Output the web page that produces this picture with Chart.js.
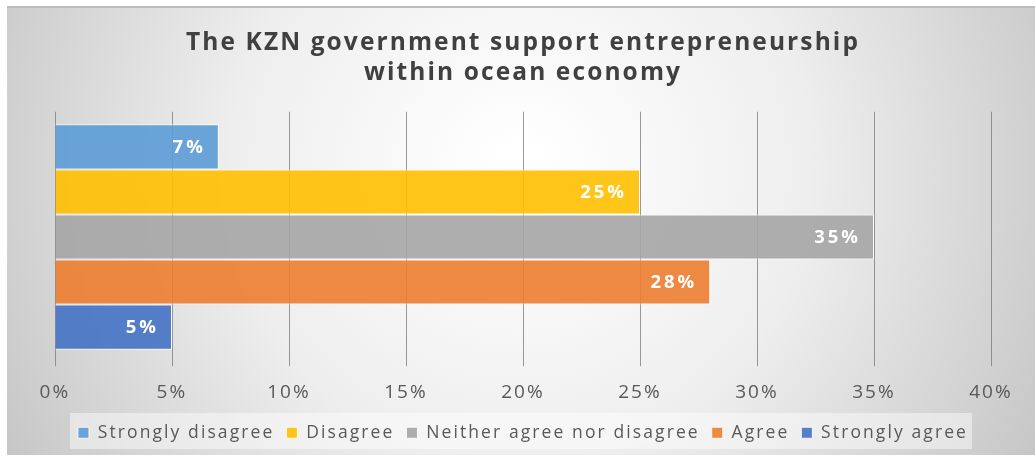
<!DOCTYPE html>
<html>
<head>
<meta charset="utf-8">
<script src="https://cdn.jsdelivr.net/npm/chart.js@4/dist/chart.umd.min.js"></script>
<style>
  html, body { margin: 0; padding: 0; background: #ffffff; }
  #wrap { position: relative; width: 1035px; height: 457px; }
  canvas { display: block; }
</style>
</head>
<body>
<div id="wrap"><canvas id="chart" width="1035" height="457"></canvas></div>
<script>
// Survey responses, in percent
const categories = ['KZN government support'];
const responseLabels = ['Strongly disagree', 'Disagree', 'Neither agree nor disagree', 'Agree', 'Strongly agree'];
const responseValues = [7, 25, 35, 28, 5];
const responseColors = ['#5B9BD5', '#FFC000', '#A5A5A5', '#ED7D31', '#4472C4'];
const titleLines = ['The KZN government support entrepreneurship', 'within ocean economy'];
const axisMin = 0, axisMax = 40, axisStep = 5;

function withAlpha(hex, a) {
  const n = parseInt(hex.slice(1), 16);
  return `rgba(${(n >> 16) & 255},${(n >> 8) & 255},${n & 255},${a})`;
}

// Slightly open lettering for every text element
const TEXT_SPACING = '2.1px';
const spacing = {
  id: 'spacing',
  beforeUpdate(chart) { chart.ctx.letterSpacing = TEXT_SPACING; },
  beforeLayout(chart) { chart.ctx.letterSpacing = TEXT_SPACING; },
  beforeDraw(chart) { chart.ctx.letterSpacing = TEXT_SPACING; }
};

// Soft radial backdrop behind the whole chart, with a thin top rule
const backdrop = {
  id: 'backdrop',
  beforeDraw(chart) {
    const ctx = chart.ctx;
    const x0 = 7, y0 = 6, x1 = chart.width, y1 = 455;
    ctx.save();
    const g = ctx.createRadialGradient(520, 170, 20, 520, 170, 620);
    g.addColorStop(0, '#ffffff');
    g.addColorStop(0.45, '#eeeeee');
    g.addColorStop(1, '#c2c2c2');
    ctx.fillStyle = g;
    ctx.fillRect(x0, y0, x1 - x0, y1 - y0);
    ctx.fillStyle = '#bdbdbd';
    ctx.fillRect(x0, y0, x1 - x0, 2);
    ctx.restore();
  }
};

// Light panel behind the legend items
const legendPanel = {
  id: 'legendPanel',
  beforeDraw(chart) {
    const lg = chart.legend;
    if (!lg || !lg.legendHitBoxes || !lg.legendHitBoxes.length) return;
    const boxes = lg.legendHitBoxes;
    const left = Math.min(...boxes.map(b => b.left)) - 8;
    const right = Math.max(...boxes.map(b => b.left + b.width)) + 4;
    const ctx = chart.ctx;
    ctx.save();
    ctx.fillStyle = 'rgba(255,255,255,0.45)';
    ctx.fillRect(left, 413, right - left, 36);
    ctx.restore();
  }
};

// Value labels inside the end of each bar
const valueLabels = {
  id: 'valueLabels',
  afterDatasetsDraw(chart) {
    const ctx = chart.ctx;
    ctx.save();
    ctx.letterSpacing = '3px';
    ctx.font = 'bold 18.5px "Open Sans"';
    ctx.fillStyle = '#ffffff';
    ctx.textAlign = 'right';
    ctx.textBaseline = 'middle';
    chart.data.datasets.forEach((ds, i) => {
      const meta = chart.getDatasetMeta(i);
      meta.data.forEach((bar, j) => {
        ctx.fillText(ds.data[j] + '%', bar.x - 13, bar.y + 1);
      });
    });
    ctx.restore();
  }
};

const datasets = responseLabels.map((label, i) => ({
  label,
  data: [responseValues[i]],
  backgroundColor: withAlpha(responseColors[i], 0.9),
  borderColor: 'rgba(255,255,255,0.85)',
  borderWidth: 1,
  categoryPercentage: 0.9,
  barPercentage: 1.0
}));

new Chart(document.getElementById('chart'), {
  type: 'bar',
  data: { labels: categories, datasets },
  plugins: [spacing, backdrop, legendPanel, valueLabels],
  options: {
    indexAxis: 'y',
    responsive: false,
    animation: false,
    layout: { padding: { top: 6, left: 55, right: 44, bottom: 5.5 } },
    scales: {
      x: {
        min: axisMin,
        max: axisMax,
        border: { display: false },
        grid: {
          color: 'rgba(120,120,120,0.75)',
          lineWidth: 1,
          tickLength: 4,
          drawTicks: true
        },
        ticks: {
          stepSize: axisStep,
          padding: 15,
          color: '#595959',
          font: { family: '"Open Sans"', size: 19 },
          callback: v => v + '%'
        },
        afterFit(scale) { scale.height -= 7; }
      },
      y: {
        display: false
      }
    },
    plugins: {
      title: {
        display: true,
        text: titleLines,
        color: '#404040',
        font: { family: '"Open Sans"', size: 24.5, weight: 'bold', lineHeight: 1.22 },
        padding: { top: 22, bottom: 24 }
      },
      legend: {
        position: 'bottom',
        labels: {
          boxWidth: 11,
          boxHeight: 11,
          padding: 12,
          color: '#595959',
          font: { family: '"Open Sans"', size: 17.5 }
        }
      },
      tooltip: { enabled: false }
    }
  }
});
</script>
</body>
</html>
